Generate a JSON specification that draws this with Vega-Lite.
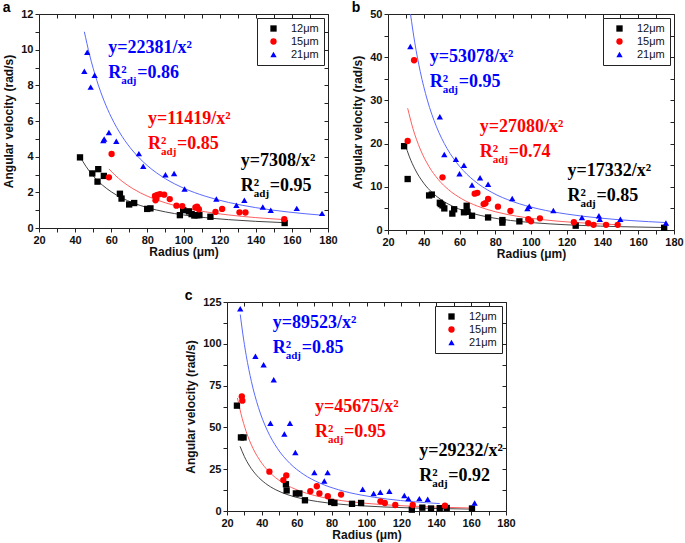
{
  "$schema": "https://vega.github.io/schema/vega-lite/v6.json",
  "padding": {"left": 2, "top": 1, "right": 2, "bottom": 2},
  "background": "white",
  "spacing": 30,
  "resolve": {"scale": {"color": "independent", "shape": "independent"}, "legend": {"color": "independent", "shape": "independent"}},
  "config": {
    "view": {"stroke": null},
    "axis": {"grid": false, "labelFont": "Liberation Sans", "labelFontWeight": "bold", "labelFontSize": 11, "labelColor": "#111", "titleFont": "Liberation Sans", "titleFontWeight": "bold", "titleFontSize": 12, "titleColor": "#111", "domainColor": "#222", "tickColor": "#222", "tickSize": 4, "labelFlush": false, "labelOverlap": false, "labelPadding": 2},
    "legend": {"orient": "top-right", "offset": 4, "strokeColor": "#222", "fillColor": "white", "padding": 5, "symbolOffset": 6, "labelOffset": 12, "rowPadding": 1, "labelFont": "Liberation Sans", "labelFontSize": 11, "labelColor": "#111", "symbolSize": 40, "title": null},
    "title": {"font": "Liberation Sans", "fontWeight": "bold", "fontSize": 14, "anchor": "start", "frame": "bounds", "offset": -7}
  },
  "datasets": {
    "pts": [
      {"panel":"a","series":"12μm","radius":42.7,"velocity":3.96},{"panel":"a","series":"12μm","radius":49.5,"velocity":3.06},{"panel":"a","series":"12μm","radius":52.4,"velocity":2.6},{"panel":"a","series":"12μm","radius":52.8,"velocity":3.3},{"panel":"a","series":"12μm","radius":55.9,"velocity":2.92},{"panel":"a","series":"12μm","radius":64.8,"velocity":1.92},{"panel":"a","series":"12μm","radius":65.7,"velocity":1.65},{"panel":"a","series":"12μm","radius":69.9,"velocity":1.32},{"panel":"a","series":"12μm","radius":72.7,"velocity":1.4},{"panel":"a","series":"12μm","radius":79.9,"velocity":1.07},{"panel":"a","series":"12μm","radius":81.7,"velocity":1.1},{"panel":"a","series":"12μm","radius":98,"velocity":0.72},{"panel":"a","series":"12μm","radius":99.8,"velocity":1.0},{"panel":"a","series":"12μm","radius":103,"velocity":0.93},{"panel":"a","series":"12μm","radius":104.5,"velocity":0.78},{"panel":"a","series":"12μm","radius":106,"velocity":0.7},{"panel":"a","series":"12μm","radius":107.5,"velocity":0.72},{"panel":"a","series":"12μm","radius":108.8,"velocity":0.72},{"panel":"a","series":"12μm","radius":114.9,"velocity":0.63},{"panel":"a","series":"12μm","radius":156,"velocity":0.28},
      {"panel":"a","series":"15μm","radius":58.7,"velocity":2.84},{"panel":"a","series":"15μm","radius":60.2,"velocity":4.15},{"panel":"a","series":"15μm","radius":84.2,"velocity":1.8},{"panel":"a","series":"15μm","radius":84.5,"velocity":1.55},{"panel":"a","series":"15μm","radius":85,"velocity":1.65},{"panel":"a","series":"15μm","radius":85.5,"velocity":1.85},{"panel":"a","series":"15μm","radius":87,"velocity":1.9},{"panel":"a","series":"15μm","radius":89.3,"velocity":1.87},{"panel":"a","series":"15μm","radius":92.4,"velocity":1.62},{"panel":"a","series":"15μm","radius":96.1,"velocity":1.25},{"panel":"a","series":"15μm","radius":99.3,"velocity":1.23},{"panel":"a","series":"15μm","radius":106.6,"velocity":1.15},{"panel":"a","series":"15μm","radius":107.5,"velocity":1.2},{"panel":"a","series":"15μm","radius":108.5,"velocity":1.05},{"panel":"a","series":"15μm","radius":117.7,"velocity":0.9},{"panel":"a","series":"15μm","radius":121.4,"velocity":1.07},{"panel":"a","series":"15μm","radius":131,"velocity":0.88},{"panel":"a","series":"15μm","radius":134.3,"velocity":0.87},{"panel":"a","series":"15μm","radius":155.8,"velocity":0.5},
      {"panel":"a","series":"21μm","radius":45.1,"velocity":8.79},{"panel":"a","series":"21μm","radius":46.7,"velocity":9.85},{"panel":"a","series":"21μm","radius":48.6,"velocity":7.9},{"panel":"a","series":"21μm","radius":50.8,"velocity":8.56},{"panel":"a","series":"21μm","radius":55.6,"velocity":4.9},{"panel":"a","series":"21μm","radius":56.1,"velocity":4.99},{"panel":"a","series":"21μm","radius":58.7,"velocity":5.36},{"panel":"a","series":"21μm","radius":62.8,"velocity":4.86},{"panel":"a","series":"21μm","radius":75.3,"velocity":4.17},{"panel":"a","series":"21μm","radius":77.7,"velocity":3.46},{"panel":"a","series":"21μm","radius":90,"velocity":2.99},{"panel":"a","series":"21μm","radius":94.8,"velocity":3.05},{"panel":"a","series":"21μm","radius":100.6,"velocity":2.19},{"panel":"a","series":"21μm","radius":118.2,"velocity":1.63},{"panel":"a","series":"21μm","radius":129.3,"velocity":1.27},{"panel":"a","series":"21μm","radius":133.7,"velocity":1.55},{"panel":"a","series":"21μm","radius":143.9,"velocity":1.18},{"panel":"a","series":"21μm","radius":148.3,"velocity":0.99},{"panel":"a","series":"21μm","radius":162.7,"velocity":1.1},{"panel":"a","series":"21μm","radius":176.7,"velocity":0.82},
      {"panel":"b","series":"12μm","radius":29,"velocity":19.4},{"panel":"b","series":"12μm","radius":31,"velocity":11.8},{"panel":"b","series":"12μm","radius":43,"velocity":8.0},{"panel":"b","series":"12μm","radius":44.5,"velocity":8.2},{"panel":"b","series":"12μm","radius":49,"velocity":6.3},{"panel":"b","series":"12μm","radius":49.5,"velocity":6.0},{"panel":"b","series":"12μm","radius":50.5,"velocity":5.7},{"panel":"b","series":"12μm","radius":51.5,"velocity":5.0},{"panel":"b","series":"12μm","radius":56,"velocity":3.8},{"panel":"b","series":"12μm","radius":57,"velocity":4.8},{"panel":"b","series":"12μm","radius":62.5,"velocity":4.1},{"panel":"b","series":"12μm","radius":64,"velocity":5.6},{"panel":"b","series":"12μm","radius":64.5,"velocity":4.2},{"panel":"b","series":"12μm","radius":67,"velocity":3.3},{"panel":"b","series":"12μm","radius":76,"velocity":2.9},{"panel":"b","series":"12μm","radius":84,"velocity":2.3},{"panel":"b","series":"12μm","radius":84,"velocity":1.7},{"panel":"b","series":"12μm","radius":93.5,"velocity":2.0},{"panel":"b","series":"12μm","radius":125,"velocity":1.0},{"panel":"b","series":"12μm","radius":174.5,"velocity":0.5},
      {"panel":"b","series":"15μm","radius":31,"velocity":20.6},{"panel":"b","series":"15μm","radius":34.6,"velocity":39.3},{"panel":"b","series":"15μm","radius":50.5,"velocity":12.2},{"panel":"b","series":"15μm","radius":68.5,"velocity":8.4},{"panel":"b","series":"15μm","radius":70,"velocity":8.6},{"panel":"b","series":"15μm","radius":73.5,"velocity":6.0},{"panel":"b","series":"15μm","radius":74.5,"velocity":6.2},{"panel":"b","series":"15μm","radius":76,"velocity":7.2},{"panel":"b","series":"15μm","radius":81.5,"velocity":5.4},{"panel":"b","series":"15μm","radius":88.5,"velocity":4.4},{"panel":"b","series":"15μm","radius":98.5,"velocity":2.5},{"panel":"b","series":"15μm","radius":100,"velocity":2.0},{"panel":"b","series":"15μm","radius":105,"velocity":2.7},{"panel":"b","series":"15μm","radius":124,"velocity":1.8},{"panel":"b","series":"15μm","radius":132,"velocity":1.6},{"panel":"b","series":"15μm","radius":135,"velocity":1.2},{"panel":"b","series":"15μm","radius":142,"velocity":1.2},{"panel":"b","series":"15μm","radius":148.5,"velocity":1.2},
      {"panel":"b","series":"21μm","radius":32.5,"velocity":42.5},{"panel":"b","series":"21μm","radius":49,"velocity":26.2},{"panel":"b","series":"21μm","radius":51.5,"velocity":17.5},{"panel":"b","series":"21μm","radius":58,"velocity":16.4},{"panel":"b","series":"21μm","radius":60,"velocity":13},{"panel":"b","series":"21μm","radius":62.5,"velocity":15},{"panel":"b","series":"21μm","radius":67,"velocity":10.4},{"panel":"b","series":"21μm","radius":71.5,"velocity":12.1},{"panel":"b","series":"21μm","radius":76,"velocity":10.6},{"panel":"b","series":"21μm","radius":89.5,"velocity":7.3},{"panel":"b","series":"21μm","radius":98,"velocity":5.0},{"panel":"b","series":"21μm","radius":99,"velocity":5.5},{"panel":"b","series":"21μm","radius":112.5,"velocity":4.5},{"panel":"b","series":"21μm","radius":128.5,"velocity":2.9},{"panel":"b","series":"21μm","radius":138,"velocity":3.3},{"panel":"b","series":"21μm","radius":138.5,"velocity":2.5},{"panel":"b","series":"21μm","radius":150,"velocity":2.5},{"panel":"b","series":"21μm","radius":175.5,"velocity":1.6},
      {"panel":"c","series":"12μm","radius":25.7,"velocity":63},{"panel":"c","series":"12μm","radius":28,"velocity":44},{"panel":"c","series":"12μm","radius":29.5,"velocity":44},{"panel":"c","series":"12μm","radius":53.8,"velocity":16},{"panel":"c","series":"12μm","radius":54.2,"velocity":12.3},{"panel":"c","series":"12μm","radius":59.5,"velocity":10.5},{"panel":"c","series":"12μm","radius":61.5,"velocity":10.5},{"panel":"c","series":"12μm","radius":64.7,"velocity":6.4},{"panel":"c","series":"12μm","radius":79.7,"velocity":5.4},{"panel":"c","series":"12μm","radius":81.6,"velocity":4.8},{"panel":"c","series":"12μm","radius":91.7,"velocity":4.3},{"panel":"c","series":"12μm","radius":96.9,"velocity":4.8},{"panel":"c","series":"12μm","radius":126,"velocity":0.8},{"panel":"c","series":"12μm","radius":132,"velocity":2.0},{"panel":"c","series":"12μm","radius":137,"velocity":1.5},{"panel":"c","series":"12μm","radius":142,"velocity":1.7},{"panel":"c","series":"12μm","radius":146,"velocity":1.8},{"panel":"c","series":"12μm","radius":160.5,"velocity":1.5},
      {"panel":"c","series":"15μm","radius":28.5,"velocity":68.5},{"panel":"c","series":"15μm","radius":28.8,"velocity":66},{"panel":"c","series":"15μm","radius":44.3,"velocity":23.5},{"panel":"c","series":"15μm","radius":52.3,"velocity":18.5},{"panel":"c","series":"15μm","radius":54,"velocity":21.3},{"panel":"c","series":"15μm","radius":67.8,"velocity":11.8},{"panel":"c","series":"15μm","radius":71.5,"velocity":14.8},{"panel":"c","series":"15μm","radius":73,"velocity":10.5},{"panel":"c","series":"15μm","radius":77.8,"velocity":8.8},{"panel":"c","series":"15μm","radius":85.4,"velocity":9.8},{"panel":"c","series":"15μm","radius":108,"velocity":5.8},{"panel":"c","series":"15μm","radius":110.5,"velocity":4.8},{"panel":"c","series":"15μm","radius":116.5,"velocity":3.6},{"panel":"c","series":"15μm","radius":126.5,"velocity":3.6},{"panel":"c","series":"15μm","radius":145,"velocity":3.2},
      {"panel":"c","series":"21μm","radius":27.6,"velocity":121},{"panel":"c","series":"21μm","radius":36.3,"velocity":92.5},{"panel":"c","series":"21μm","radius":41,"velocity":87.5},{"panel":"c","series":"21μm","radius":46.8,"velocity":78.5},{"panel":"c","series":"21μm","radius":44.9,"velocity":52.5},{"panel":"c","series":"21μm","radius":52.9,"velocity":46},{"panel":"c","series":"21μm","radius":56.1,"velocity":52.5},{"panel":"c","series":"21μm","radius":59.2,"velocity":35},{"panel":"c","series":"21μm","radius":70.1,"velocity":23},{"panel":"c","series":"21μm","radius":75.8,"velocity":18},{"panel":"c","series":"21μm","radius":77.7,"velocity":23},{"panel":"c","series":"21μm","radius":97.8,"velocity":13},{"panel":"c","series":"21μm","radius":104.1,"velocity":10.5},{"panel":"c","series":"21μm","radius":107.9,"velocity":11.2},{"panel":"c","series":"21μm","radius":113.1,"velocity":11.8},{"panel":"c","series":"21μm","radius":121.7,"velocity":9.3},{"panel":"c","series":"21μm","radius":124,"velocity":7.4},{"panel":"c","series":"21μm","radius":130.3,"velocity":7.4},{"panel":"c","series":"21μm","radius":135.1,"velocity":7.0},{"panel":"c","series":"21μm","radius":162,"velocity":4.8}
    ],
    "fits": [
      {"panel":"a","series":"12μm","radius":42.7,"velocity":4.008},{"panel":"a","series":"12μm","radius":46,"velocity":3.454},{"panel":"a","series":"12μm","radius":50,"velocity":2.923},{"panel":"a","series":"12μm","radius":55,"velocity":2.416},{"panel":"a","series":"12μm","radius":60,"velocity":2.030},{"panel":"a","series":"12μm","radius":66,"velocity":1.678},{"panel":"a","series":"12μm","radius":72,"velocity":1.410},{"panel":"a","series":"12μm","radius":80,"velocity":1.142},{"panel":"a","series":"12μm","radius":90,"velocity":0.902},{"panel":"a","series":"12μm","radius":100,"velocity":0.731},{"panel":"a","series":"12μm","radius":112,"velocity":0.583},{"panel":"a","series":"12μm","radius":125,"velocity":0.468},{"panel":"a","series":"12μm","radius":140,"velocity":0.373},{"panel":"a","series":"12μm","radius":156,"velocity":0.300},
      {"panel":"a","series":"15μm","radius":58.7,"velocity":3.314},{"panel":"a","series":"15μm","radius":62,"velocity":2.971},{"panel":"a","series":"15μm","radius":66,"velocity":2.621},{"panel":"a","series":"15μm","radius":72,"velocity":2.203},{"panel":"a","series":"15μm","radius":80,"velocity":1.784},{"panel":"a","series":"15μm","radius":90,"velocity":1.410},{"panel":"a","series":"15μm","radius":100,"velocity":1.142},{"panel":"a","series":"15μm","radius":112,"velocity":0.910},{"panel":"a","series":"15μm","radius":125,"velocity":0.731},{"panel":"a","series":"15μm","radius":140,"velocity":0.583},{"panel":"a","series":"15μm","radius":155.8,"velocity":0.470},
      {"panel":"a","series":"21μm","radius":45.1,"velocity":11.003},{"panel":"a","series":"21μm","radius":48,"velocity":9.714},{"panel":"a","series":"21μm","radius":52,"velocity":8.277},{"panel":"a","series":"21μm","radius":56,"velocity":7.137},{"panel":"a","series":"21μm","radius":60,"velocity":6.217},{"panel":"a","series":"21μm","radius":66,"velocity":5.138},{"panel":"a","series":"21μm","radius":72,"velocity":4.317},{"panel":"a","series":"21μm","radius":80,"velocity":3.497},{"panel":"a","series":"21μm","radius":90,"velocity":2.763},{"panel":"a","series":"21μm","radius":100,"velocity":2.238},{"panel":"a","series":"21μm","radius":112,"velocity":1.784},{"panel":"a","series":"21μm","radius":125,"velocity":1.432},{"panel":"a","series":"21μm","radius":140,"velocity":1.142},{"panel":"a","series":"21μm","radius":158,"velocity":0.897},{"panel":"a","series":"21μm","radius":176.7,"velocity":0.717},
      {"panel":"b","series":"12μm","radius":29.5,"velocity":19.916},{"panel":"b","series":"12μm","radius":32,"velocity":16.926},{"panel":"b","series":"12μm","radius":35,"velocity":14.149},{"panel":"b","series":"12μm","radius":40,"velocity":10.833},{"panel":"b","series":"12μm","radius":45,"velocity":8.559},{"panel":"b","series":"12μm","radius":50,"velocity":6.933},{"panel":"b","series":"12μm","radius":56,"velocity":5.527},{"panel":"b","series":"12μm","radius":63,"velocity":4.367},{"panel":"b","series":"12μm","radius":72,"velocity":3.343},{"panel":"b","series":"12μm","radius":82,"velocity":2.578},{"panel":"b","series":"12μm","radius":95,"velocity":1.920},{"panel":"b","series":"12μm","radius":110,"velocity":1.432},{"panel":"b","series":"12μm","radius":128,"velocity":1.058},{"panel":"b","series":"12μm","radius":150,"velocity":0.770},{"panel":"b","series":"12μm","radius":174.5,"velocity":0.569},
      {"panel":"b","series":"15μm","radius":31,"velocity":28.179},{"panel":"b","series":"15μm","radius":34,"velocity":23.426},{"panel":"b","series":"15μm","radius":38,"velocity":18.753},{"panel":"b","series":"15μm","radius":43,"velocity":14.646},{"panel":"b","series":"15μm","radius":48,"velocity":11.753},{"panel":"b","series":"15μm","radius":54,"velocity":9.287},{"panel":"b","series":"15μm","radius":61,"velocity":7.278},{"panel":"b","series":"15μm","radius":70,"velocity":5.527},{"panel":"b","series":"15μm","radius":80,"velocity":4.231},{"panel":"b","series":"15μm","radius":92,"velocity":3.199},{"panel":"b","series":"15μm","radius":106,"velocity":2.410},{"panel":"b","series":"15μm","radius":122,"velocity":1.819},{"panel":"b","series":"15μm","radius":135,"velocity":1.486},{"panel":"b","series":"15μm","radius":148.5,"velocity":1.228},
      {"panel":"b","series":"21μm","radius":32.6,"velocity":49.944},{"panel":"b","series":"21μm","radius":35,"velocity":43.329},{"panel":"b","series":"21μm","radius":38,"velocity":36.758},{"panel":"b","series":"21μm","radius":42,"velocity":30.090},{"panel":"b","series":"21μm","radius":47,"velocity":24.028},{"panel":"b","series":"21μm","radius":53,"velocity":18.896},{"panel":"b","series":"21μm","radius":60,"velocity":14.744},{"panel":"b","series":"21μm","radius":68,"velocity":11.479},{"panel":"b","series":"21μm","radius":78,"velocity":8.724},{"panel":"b","series":"21μm","radius":90,"velocity":6.553},{"panel":"b","series":"21μm","radius":104,"velocity":4.907},{"panel":"b","series":"21μm","radius":120,"velocity":3.686},{"panel":"b","series":"21μm","radius":138,"velocity":2.787},{"panel":"b","series":"21μm","radius":156,"velocity":2.181},{"panel":"b","series":"21μm","radius":175.5,"velocity":1.723},
      {"panel":"c","series":"12μm","radius":27.5,"velocity":38.654},{"panel":"c","series":"12μm","radius":30,"velocity":32.48},{"panel":"c","series":"12μm","radius":33,"velocity":26.843},{"panel":"c","series":"12μm","radius":37,"velocity":21.353},{"panel":"c","series":"12μm","radius":42,"velocity":16.571},{"panel":"c","series":"12μm","radius":48,"velocity":12.688},{"panel":"c","series":"12μm","radius":55,"velocity":9.663},{"panel":"c","series":"12μm","radius":63,"velocity":7.365},{"panel":"c","series":"12μm","radius":72,"velocity":5.639},{"panel":"c","series":"12μm","radius":83,"velocity":4.243},{"panel":"c","series":"12μm","radius":96,"velocity":3.172},{"panel":"c","series":"12μm","radius":110,"velocity":2.416},{"panel":"c","series":"12μm","radius":126,"velocity":1.841},{"panel":"c","series":"12μm","radius":143,"velocity":1.430},{"panel":"c","series":"12μm","radius":160.5,"velocity":1.135},
      {"panel":"c","series":"15μm","radius":26,"velocity":67.567},{"panel":"c","series":"15μm","radius":28,"velocity":58.259},{"panel":"c","series":"15μm","radius":31,"velocity":47.529},{"panel":"c","series":"15μm","radius":35,"velocity":37.286},{"panel":"c","series":"15μm","radius":40,"velocity":28.547},{"panel":"c","series":"15μm","radius":46,"velocity":21.586},{"panel":"c","series":"15μm","radius":53,"velocity":16.260},{"panel":"c","series":"15μm","radius":61,"velocity":12.275},{"panel":"c","series":"15μm","radius":70,"velocity":9.321},{"panel":"c","series":"15μm","radius":80,"velocity":7.137},{"panel":"c","series":"15μm","radius":92,"velocity":5.396},{"panel":"c","series":"15μm","radius":106,"velocity":4.065},{"panel":"c","series":"15μm","radius":122,"velocity":3.069},{"panel":"c","series":"15μm","radius":140,"velocity":2.330},{"panel":"c","series":"15μm","radius":160,"velocity":1.784},
      {"panel":"c","series":"21μm","radius":27.6,"velocity":117.521},{"panel":"c","series":"21μm","radius":29,"velocity":106.448},{"panel":"c","series":"21μm","radius":31,"velocity":93.156},{"panel":"c","series":"21μm","radius":34,"velocity":77.442},{"panel":"c","series":"21μm","radius":38,"velocity":61.997},{"panel":"c","series":"21μm","radius":43,"velocity":48.417},{"panel":"c","series":"21μm","radius":49,"velocity":37.286},{"panel":"c","series":"21μm","radius":56,"velocity":28.547},{"panel":"c","series":"21μm","radius":64,"velocity":21.856},{"panel":"c","series":"21μm","radius":73,"velocity":16.799},{"panel":"c","series":"21μm","radius":84,"velocity":12.687},{"panel":"c","series":"21μm","radius":97,"velocity":9.515},{"panel":"c","series":"21μm","radius":112,"velocity":7.137},{"panel":"c","series":"21μm","radius":127,"velocity":5.550},{"panel":"c","series":"21μm","radius":142,"velocity":4.440}
    ],
    "eqs": [
      {"panel":"a","series":"21μm","radius":58.3,"velocity":9.81,"equation":"y=22381/x²","r2":"=0.86"},
      {"panel":"a","series":"15μm","radius":80.4,"velocity":5.85,"equation":"y=11419/x²","r2":"=0.85"},
      {"panel":"a","series":"12μm","radius":131.7,"velocity":3.46,"equation":"y=7308/x²","r2":"=0.95"},
      {"panel":"b","series":"21μm","radius":43.3,"velocity":39.0,"equation":"y=53078/x²","r2":"=0.95"},
      {"panel":"b","series":"15μm","radius":71.3,"velocity":22.8,"equation":"y=27080/x²","r2":"=0.74"},
      {"panel":"b","series":"12μm","radius":120.4,"velocity":12.6,"equation":"y=17332/x²","r2":"=0.85"},
      {"panel":"c","series":"21μm","radius":46.2,"velocity":109.7,"equation":"y=89523/x²","r2":"=0.85"},
      {"panel":"c","series":"15μm","radius":70.5,"velocity":59.2,"equation":"y=45675/x²","r2":"=0.95"},
      {"panel":"c","series":"12μm","radius":130.3,"velocity":32.7,"equation":"y=29232/x²","r2":"=0.92"}
    ]
  },
  "vconcat": [
    {
      "spacing": 13,
      "resolve": {"scale": {"color": "independent", "shape": "independent"}, "legend": {"color": "independent", "shape": "independent"}},
      "hconcat": [
        {
          "title": "a",
          "width": 289, "height": 214,
          "resolve": {"axis": {"x": "independent", "y": "independent"}},
          "layer": [
            {"data": {"name": "fits"}, "transform": [{"filter": "datum.panel === 'a' && datum.series === '12μm'"}],
             "mark": {"type": "line", "strokeWidth": 1, "interpolate": "monotone", "color": "#444444"},
             "encoding": {
               "x": {"field": "radius", "type": "quantitative", "scale": {"domain": [20, 180], "nice": false}, "axis": {"title": "Radius (μm)", "values": [20,30,40,50,60,70,80,90,100,110,120,130,140,150,160,170,180], "labelExpr": "datum.value % 20 === 0 ? datum.label : ''", "titlePadding": 1}},
               "y": {"field": "velocity", "type": "quantitative", "scale": {"domain": [0, 12], "nice": false}, "axis": {"title": "Angular velocity (rad/s)", "values": [0,1,2,3,4,5,6,7,8,9,10,11,12], "labelExpr": "datum.value % 2 === 0 ? datum.label : ''", "titlePadding": 5}}
             }},
            {"data": {"name": "fits"}, "transform": [{"filter": "datum.panel === 'a' && datum.series === '15μm'"}],
             "mark": {"type": "line", "strokeWidth": 1, "interpolate": "monotone", "color": "#ff6060"},
             "encoding": {"x": {"field": "radius", "type": "quantitative", "axis": null}, "y": {"field": "velocity", "type": "quantitative", "axis": null}}},
            {"data": {"name": "fits"}, "transform": [{"filter": "datum.panel === 'a' && datum.series === '21μm'"}],
             "mark": {"type": "line", "strokeWidth": 1, "interpolate": "monotone", "color": "#5a6aff"},
             "encoding": {"x": {"field": "radius", "type": "quantitative", "axis": null}, "y": {"field": "velocity", "type": "quantitative", "axis": null}}},
            {"data": {"name": "pts"}, "transform": [{"filter": "datum.panel === 'a'"}],
             "mark": {"type": "point", "filled": true, "opacity": 1, "size": 40},
             "encoding": {
               "x": {"field": "radius", "type": "quantitative", "axis": null},
               "y": {"field": "velocity", "type": "quantitative", "axis": null},
               "color": {"field": "series", "type": "nominal", "title": null, "scale": {"domain": ["12μm","15μm","21μm"], "range": ["#000000","#ff0000","#0000ff"]}},
               "shape": {"field": "series", "type": "nominal", "title": null, "scale": {"domain": ["12μm","15μm","21μm"], "range": ["square","circle","triangle-up"]}}
             }},
            {"data": {"name": "eqs"}, "transform": [{"filter": "datum.panel === 'a'"}],
             "mark": {"type": "text", "align": "left", "baseline": "alphabetic", "font": "Liberation Serif", "fontWeight": "bold", "fontSize": 18},
             "encoding": {"x": {"field": "radius", "type": "quantitative", "axis": null}, "y": {"field": "velocity", "type": "quantitative", "axis": null}, "text": {"field": "equation"},
               "color": {"field": "series", "type": "nominal", "title": null}}},
            {"data": {"name": "eqs"}, "transform": [{"filter": "datum.panel === 'a'"}],
             "mark": {"type": "text", "align": "left", "baseline": "alphabetic", "font": "Liberation Serif", "fontWeight": "bold", "fontSize": 18, "dy": 25, "text": "R²"},
             "encoding": {"x": {"field": "radius", "type": "quantitative", "axis": null}, "y": {"field": "velocity", "type": "quantitative", "axis": null},
               "color": {"field": "series", "type": "nominal", "title": null}}},
            {"data": {"name": "eqs"}, "transform": [{"filter": "datum.panel === 'a'"}],
             "mark": {"type": "text", "align": "left", "baseline": "alphabetic", "font": "Liberation Serif", "fontWeight": "bold", "fontSize": 11, "dx": 13, "dy": 31, "text": "adj"},
             "encoding": {"x": {"field": "radius", "type": "quantitative", "axis": null}, "y": {"field": "velocity", "type": "quantitative", "axis": null},
               "color": {"field": "series", "type": "nominal", "title": null}}},
            {"data": {"name": "eqs"}, "transform": [{"filter": "datum.panel === 'a'"}],
             "mark": {"type": "text", "align": "left", "baseline": "alphabetic", "font": "Liberation Serif", "fontWeight": "bold", "fontSize": 18, "dx": 29, "dy": 25},
             "encoding": {"x": {"field": "radius", "type": "quantitative", "axis": null}, "y": {"field": "velocity", "type": "quantitative", "axis": null}, "text": {"field": "r2"},
               "color": {"field": "series", "type": "nominal", "title": null}}},
            {"data": {"name": "pts"}, "transform": [{"filter": "datum.panel === 'a'"}],
             "mark": {"type": "point", "opacity": 0},
             "encoding": {
               "x": {"field": "radius", "type": "quantitative", "axis": {"orient": "top", "title": null, "labels": false, "tickSize": -4, "minExtent": 0, "maxExtent": 0, "values": [20,30,40,50,60,70,80,90,100,110,120,130,140,150,160,170,180]}},
               "y": {"field": "velocity", "type": "quantitative", "axis": {"orient": "right", "title": null, "labels": false, "tickSize": -4, "minExtent": 0, "maxExtent": 0, "values": [0,1,2,3,4,5,6,7,8,9,10,11,12]}}
             }}
          ]
        },
        {
          "title": "b",
          "width": 286, "height": 216,
          "resolve": {"axis": {"x": "independent", "y": "independent"}},
          "layer": [
            {"data": {"name": "fits"}, "transform": [{"filter": "datum.panel === 'b' && datum.series === '12μm'"}],
             "mark": {"type": "line", "strokeWidth": 1, "interpolate": "monotone", "color": "#444444"},
             "encoding": {
               "x": {"field": "radius", "type": "quantitative", "scale": {"domain": [20, 180], "nice": false}, "axis": {"title": "Radius (μm)", "values": [20,30,40,50,60,70,80,90,100,110,120,130,140,150,160,170,180], "labelExpr": "datum.value % 20 === 0 ? datum.label : ''", "titlePadding": 1}},
               "y": {"field": "velocity", "type": "quantitative", "scale": {"domain": [0, 50], "nice": false}, "axis": {"title": "Angular velocity (rad/s)", "values": [0,5,10,15,20,25,30,35,40,45,50], "labelExpr": "datum.value % 10 === 0 ? datum.label : ''", "titlePadding": 5}}
             }},
            {"data": {"name": "fits"}, "transform": [{"filter": "datum.panel === 'b' && datum.series === '15μm'"}],
             "mark": {"type": "line", "strokeWidth": 1, "interpolate": "monotone", "color": "#ff6060"},
             "encoding": {"x": {"field": "radius", "type": "quantitative", "axis": null}, "y": {"field": "velocity", "type": "quantitative", "axis": null}}},
            {"data": {"name": "fits"}, "transform": [{"filter": "datum.panel === 'b' && datum.series === '21μm'"}],
             "mark": {"type": "line", "strokeWidth": 1, "interpolate": "monotone", "color": "#5a6aff"},
             "encoding": {"x": {"field": "radius", "type": "quantitative", "axis": null}, "y": {"field": "velocity", "type": "quantitative", "axis": null}}},
            {"data": {"name": "pts"}, "transform": [{"filter": "datum.panel === 'b'"}],
             "mark": {"type": "point", "filled": true, "opacity": 1, "size": 40},
             "encoding": {
               "x": {"field": "radius", "type": "quantitative", "axis": null},
               "y": {"field": "velocity", "type": "quantitative", "axis": null},
               "color": {"field": "series", "type": "nominal", "title": null, "scale": {"domain": ["12μm","15μm","21μm"], "range": ["#000000","#ff0000","#0000ff"]}},
               "shape": {"field": "series", "type": "nominal", "title": null, "scale": {"domain": ["12μm","15μm","21μm"], "range": ["square","circle","triangle-up"]}}
             }},
            {"data": {"name": "eqs"}, "transform": [{"filter": "datum.panel === 'b'"}],
             "mark": {"type": "text", "align": "left", "baseline": "alphabetic", "font": "Liberation Serif", "fontWeight": "bold", "fontSize": 18},
             "encoding": {"x": {"field": "radius", "type": "quantitative", "axis": null}, "y": {"field": "velocity", "type": "quantitative", "axis": null}, "text": {"field": "equation"},
               "color": {"field": "series", "type": "nominal", "title": null}}},
            {"data": {"name": "eqs"}, "transform": [{"filter": "datum.panel === 'b'"}],
             "mark": {"type": "text", "align": "left", "baseline": "alphabetic", "font": "Liberation Serif", "fontWeight": "bold", "fontSize": 18, "dy": 25, "text": "R²"},
             "encoding": {"x": {"field": "radius", "type": "quantitative", "axis": null}, "y": {"field": "velocity", "type": "quantitative", "axis": null},
               "color": {"field": "series", "type": "nominal", "title": null}}},
            {"data": {"name": "eqs"}, "transform": [{"filter": "datum.panel === 'b'"}],
             "mark": {"type": "text", "align": "left", "baseline": "alphabetic", "font": "Liberation Serif", "fontWeight": "bold", "fontSize": 11, "dx": 13, "dy": 31, "text": "adj"},
             "encoding": {"x": {"field": "radius", "type": "quantitative", "axis": null}, "y": {"field": "velocity", "type": "quantitative", "axis": null},
               "color": {"field": "series", "type": "nominal", "title": null}}},
            {"data": {"name": "eqs"}, "transform": [{"filter": "datum.panel === 'b'"}],
             "mark": {"type": "text", "align": "left", "baseline": "alphabetic", "font": "Liberation Serif", "fontWeight": "bold", "fontSize": 18, "dx": 29, "dy": 25},
             "encoding": {"x": {"field": "radius", "type": "quantitative", "axis": null}, "y": {"field": "velocity", "type": "quantitative", "axis": null}, "text": {"field": "r2"},
               "color": {"field": "series", "type": "nominal", "title": null}}},
            {"data": {"name": "pts"}, "transform": [{"filter": "datum.panel === 'b'"}],
             "mark": {"type": "point", "opacity": 0},
             "encoding": {
               "x": {"field": "radius", "type": "quantitative", "axis": {"orient": "top", "title": null, "labels": false, "tickSize": -4, "minExtent": 0, "maxExtent": 0, "values": [20,30,40,50,60,70,80,90,100,110,120,130,140,150,160,170,180]}},
               "y": {"field": "velocity", "type": "quantitative", "axis": {"orient": "right", "title": null, "labels": false, "tickSize": -4, "minExtent": 0, "maxExtent": 0, "values": [0,5,10,15,20,25,30,35,40,45,50]}}
             }}
          ]
        }
      ]
    },
    {
      "spacing": 0,
      "resolve": {"scale": {"color": "independent", "shape": "independent"}, "legend": {"color": "independent", "shape": "independent"}},
      "hconcat": [
        {
          "width": 145, "height": 10,
          "data": {"values": []},
          "mark": {"type": "point", "opacity": 0},
          "encoding": {}
        },
        {
          "title": "c",
          "width": 279, "height": 209,
          "resolve": {"axis": {"x": "independent", "y": "independent"}},
          "layer": [
            {"data": {"name": "fits"}, "transform": [{"filter": "datum.panel === 'c' && datum.series === '12μm'"}],
             "mark": {"type": "line", "strokeWidth": 1, "interpolate": "monotone", "color": "#444444"},
             "encoding": {
               "x": {"field": "radius", "type": "quantitative", "scale": {"domain": [20, 180], "nice": false}, "axis": {"title": "Radius (μm)", "values": [20,30,40,50,60,70,80,90,100,110,120,130,140,150,160,170,180], "labelExpr": "datum.value % 20 === 0 ? datum.label : ''", "titlePadding": 1}},
               "y": {"field": "velocity", "type": "quantitative", "scale": {"domain": [0, 125], "nice": false}, "axis": {"title": "Angular velocity (rad/s)", "values": [0,12.5,25,37.5,50,62.5,75,87.5,100,112.5,125], "labelExpr": "datum.value % 25 === 0 ? datum.label : ''", "titlePadding": 5}}
             }},
            {"data": {"name": "fits"}, "transform": [{"filter": "datum.panel === 'c' && datum.series === '15μm'"}],
             "mark": {"type": "line", "strokeWidth": 1, "interpolate": "monotone", "color": "#ff6060"},
             "encoding": {"x": {"field": "radius", "type": "quantitative", "axis": null}, "y": {"field": "velocity", "type": "quantitative", "axis": null}}},
            {"data": {"name": "fits"}, "transform": [{"filter": "datum.panel === 'c' && datum.series === '21μm'"}],
             "mark": {"type": "line", "strokeWidth": 1, "interpolate": "monotone", "color": "#5a6aff"},
             "encoding": {"x": {"field": "radius", "type": "quantitative", "axis": null}, "y": {"field": "velocity", "type": "quantitative", "axis": null}}},
            {"data": {"name": "pts"}, "transform": [{"filter": "datum.panel === 'c'"}],
             "mark": {"type": "point", "filled": true, "opacity": 1, "size": 40},
             "encoding": {
               "x": {"field": "radius", "type": "quantitative", "axis": null},
               "y": {"field": "velocity", "type": "quantitative", "axis": null},
               "color": {"field": "series", "type": "nominal", "title": null, "scale": {"domain": ["12μm","15μm","21μm"], "range": ["#000000","#ff0000","#0000ff"]}},
               "shape": {"field": "series", "type": "nominal", "title": null, "scale": {"domain": ["12μm","15μm","21μm"], "range": ["square","circle","triangle-up"]}}
             }},
            {"data": {"name": "eqs"}, "transform": [{"filter": "datum.panel === 'c'"}],
             "mark": {"type": "text", "align": "left", "baseline": "alphabetic", "font": "Liberation Serif", "fontWeight": "bold", "fontSize": 18},
             "encoding": {"x": {"field": "radius", "type": "quantitative", "axis": null}, "y": {"field": "velocity", "type": "quantitative", "axis": null}, "text": {"field": "equation"},
               "color": {"field": "series", "type": "nominal", "title": null}}},
            {"data": {"name": "eqs"}, "transform": [{"filter": "datum.panel === 'c'"}],
             "mark": {"type": "text", "align": "left", "baseline": "alphabetic", "font": "Liberation Serif", "fontWeight": "bold", "fontSize": 18, "dy": 25, "text": "R²"},
             "encoding": {"x": {"field": "radius", "type": "quantitative", "axis": null}, "y": {"field": "velocity", "type": "quantitative", "axis": null},
               "color": {"field": "series", "type": "nominal", "title": null}}},
            {"data": {"name": "eqs"}, "transform": [{"filter": "datum.panel === 'c'"}],
             "mark": {"type": "text", "align": "left", "baseline": "alphabetic", "font": "Liberation Serif", "fontWeight": "bold", "fontSize": 11, "dx": 13, "dy": 31, "text": "adj"},
             "encoding": {"x": {"field": "radius", "type": "quantitative", "axis": null}, "y": {"field": "velocity", "type": "quantitative", "axis": null},
               "color": {"field": "series", "type": "nominal", "title": null}}},
            {"data": {"name": "eqs"}, "transform": [{"filter": "datum.panel === 'c'"}],
             "mark": {"type": "text", "align": "left", "baseline": "alphabetic", "font": "Liberation Serif", "fontWeight": "bold", "fontSize": 18, "dx": 29, "dy": 25},
             "encoding": {"x": {"field": "radius", "type": "quantitative", "axis": null}, "y": {"field": "velocity", "type": "quantitative", "axis": null}, "text": {"field": "r2"},
               "color": {"field": "series", "type": "nominal", "title": null}}},
            {"data": {"name": "pts"}, "transform": [{"filter": "datum.panel === 'c'"}],
             "mark": {"type": "point", "opacity": 0},
             "encoding": {
               "x": {"field": "radius", "type": "quantitative", "axis": {"orient": "top", "title": null, "labels": false, "tickSize": -4, "minExtent": 0, "maxExtent": 0, "values": [20,30,40,50,60,70,80,90,100,110,120,130,140,150,160,170,180]}},
               "y": {"field": "velocity", "type": "quantitative", "axis": {"orient": "right", "title": null, "labels": false, "tickSize": -4, "minExtent": 0, "maxExtent": 0, "values": [0,12.5,25,37.5,50,62.5,75,87.5,100,112.5,125]}}
             }}
          ]
        }
      ]
    }
  ]
}
